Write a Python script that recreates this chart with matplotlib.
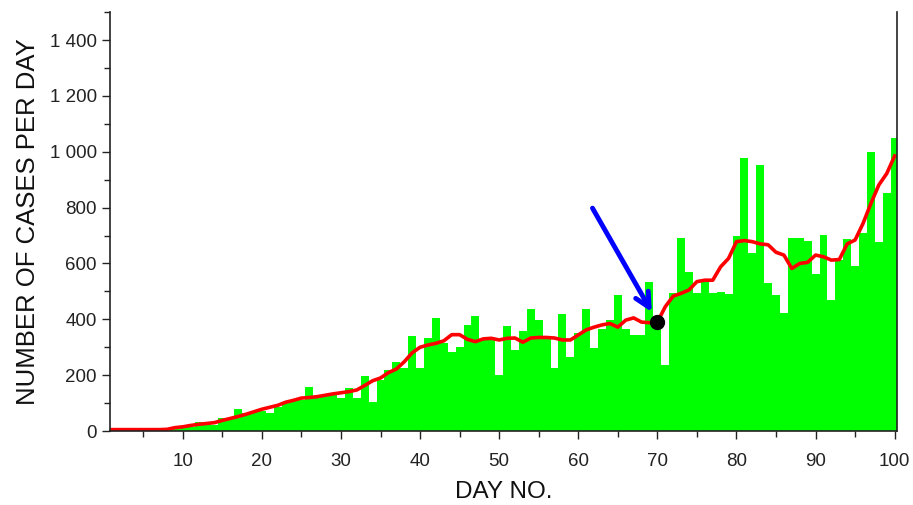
#!/usr/bin/env python3
"""
Daily case counts with a smoothed trend line, day 70 marked with an arrow
"""

import matplotlib.pyplot as plt
from matplotlib.ticker import MultipleLocator, FuncFormatter

# day numbers 1..100
days = list(range(1, 101))

# number of cases per day (green bars)
cases = [
    2, 2, 2, 3, 3, 4, 5, 12, 10, 15,
    15, 33, 28, 23, 45, 48, 78, 65, 68, 70,
    66, 86, 105, 108, 112, 156, 123, 128, 128, 118,
    153, 118, 197, 105, 183, 218, 248, 225, 340, 224,
    332, 403, 314, 284, 300, 380, 412, 325, 325, 200,
    376, 290, 359, 436, 397, 330, 225, 418, 265, 350,
    436, 297, 365, 397, 487, 365, 345, 345, 535, 390,
    236, 493, 692, 570, 493, 535, 493, 498, 490, 698,
    976, 636, 952, 529, 487, 421, 692, 692, 681, 561,
    702, 469, 612, 686, 591, 708, 998, 678, 851, 1048,
]

# smoothed trend (red line)
trend = [
    5, 5, 5, 5, 5, 5, 5, 6, 12, 15,
    20, 24, 27, 30, 38, 45, 52, 60, 69, 78,
    85, 92, 103, 110, 118, 120, 123, 128, 133, 137,
    141, 147, 163, 180, 190, 209, 222, 248, 280, 300,
    308, 314, 323, 345, 345, 328, 320, 330, 332, 326,
    332, 333, 318, 333, 335, 335, 333, 326, 326, 344,
    362, 372, 380, 385, 372, 397, 405, 390, 388, 390,
    445, 483, 493, 505, 535, 540, 540, 588, 618, 678,
    682, 678, 670, 667, 640, 630, 582, 600, 604, 630,
    624, 612, 614, 670, 684, 743, 815, 881, 922, 985,
]

# marked point and arrow start
mark_day = 70
mark_value = 390
arrow_from = (61.8, 798)
arrow_to = (69.3, 426)

plt.rcParams['font.family'] = ['Liberation Sans', 'DejaVu Sans']


def thousands(v, pos):
    return f"{int(v):,}".replace(',', ' ')


def main():
    fig = plt.figure(figsize=(9.13, 5.05), dpi=100)
    ax = fig.add_axes([0.1205, 0.1465, 0.862, 0.8295])

    ax.bar(days, cases, width=1.0, color='#00ff00', linewidth=0)
    ax.plot(days, trend, color='#ff0000', linewidth=2.6)
    ax.plot([mark_day], [mark_value], 'o', color='black', markersize=10, zorder=5)

    ax.annotate('', xy=arrow_to, xytext=arrow_from,
                arrowprops=dict(arrowstyle='->', color='#0000ff', lw=3.5,
                                mutation_scale=26, shrinkA=0, shrinkB=0))

    ax.set_xlim(0.8, 100.3)
    ax.set_ylim(0, 1500)

    ax.xaxis.set_major_locator(MultipleLocator(10))
    ax.xaxis.set_minor_locator(MultipleLocator(5))
    ax.yaxis.set_major_locator(MultipleLocator(200))
    ax.yaxis.set_minor_locator(MultipleLocator(100))
    ax.yaxis.set_major_formatter(FuncFormatter(thousands))

    ax.tick_params(which='major', direction='out', length=6, width=1,
                   labelsize=13.5, colors='#222222')
    ax.tick_params(which='minor', direction='out', length=4, width=1, colors='#222222')
    ax.tick_params(axis='x', pad=10)

    ax.spines['top'].set_visible(False)
    for s in ('left', 'bottom', 'right'):
        ax.spines[s].set_color('#222222')
        ax.spines[s].set_linewidth(1.2)

    ax.set_xlabel('DAY NO.', fontsize=17.5, color='#111111', labelpad=8)
    ax.set_ylabel('NUMBER OF CASES PER DAY', fontsize=18.5, color='#111111', labelpad=7)

    fig.savefig('out.png', dpi=100)
    plt.close(fig)


if __name__ == "__main__":
    main()
